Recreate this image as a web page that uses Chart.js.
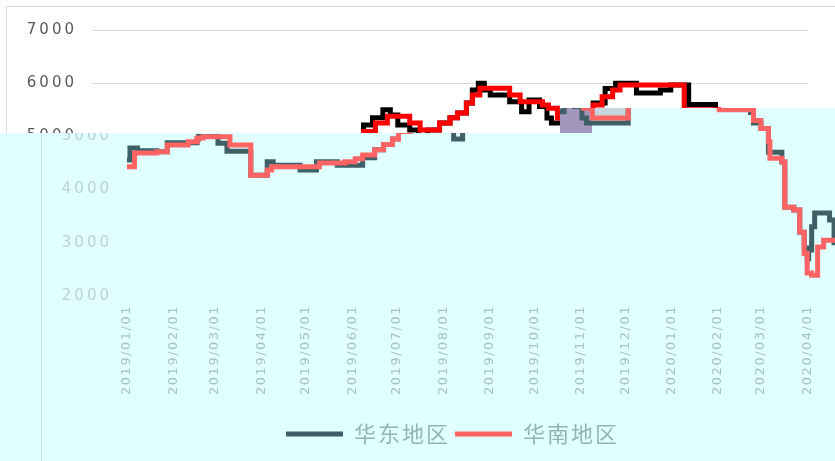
<!DOCTYPE html>
<html><head><meta charset="utf-8">
<script src="https://cdn.jsdelivr.net/npm/chart.js@4.4.1/dist/chart.umd.min.js"></script>
<style>
html,body{margin:0;padding:0;width:835px;height:461px;overflow:hidden;background:#fff;}
.layer{position:absolute;left:0;top:0;width:835px;height:461px;overflow:hidden;}
#upper{background:#fff;}
#lower{background:#e0ffff;clip-path:polygon(0px 133px,560px 133px,560px 108px,835px 108px,835px 461px,0px 461px);}
.frame{position:absolute;left:6px;top:6px;width:900px;height:470px;border:1px solid #d9d9d9;box-sizing:border-box;}
.cv{position:absolute;top:0;width:835px;height:461px;}
</style></head><body>
<div id="upper" class="layer"><div class="frame"></div><div class="cv" style="left:0"><canvas id="c1" width="835" height="461"></canvas></div></div>
<div id="lower" class="layer"><div class="frame" style="left:41px;border-color:#c6e2e2"></div>
<div style="position:absolute;left:593px;top:108px;width:33px;height:12px;background:#c5d6dd"></div>
<div style="position:absolute;left:560px;top:108px;width:32px;height:25px;background:#a497bd"></div>
<div class="cv" style="left:35px"><canvas id="c2" width="835" height="461"></canvas></div></div>
<script>
const seriesNames = ["华东地区", "华南地区"];
const tickLabels = ["2019/01/01","2019/02/01","2019/03/01","2019/04/01","2019/05/01","2019/06/01","2019/07/01","2019/08/01","2019/09/01","2019/10/01","2019/11/01","2019/12/01","2020/01/01","2020/02/01","2020/03/01","2020/04/01"];
const yTicks = [2000, 3000, 4000, 5000, 6000, 7000];
const eastDates = ["2019-01-01","2019-01-03","2019-01-08","2019-01-21","2019-01-28","2019-02-17","2019-02-18","2019-03-03","2019-03-09","2019-03-25","2019-04-05","2019-04-09","2019-04-27","2019-05-08","2019-05-22","2019-06-08","2019-06-16","2019-06-22","2019-06-28","2019-07-02","2019-07-08","2019-07-15","2019-07-20","2019-07-25","2019-08-02","2019-08-08","2019-08-14","2019-08-22","2019-08-29","2019-09-03","2019-09-09","2019-09-13","2019-09-17","2019-09-21","2019-09-25","2019-10-08","2019-10-16","2019-10-21","2019-10-28","2019-11-02","2019-11-05","2019-12-03","2019-12-11","2019-12-18","2020-01-01","2020-01-17","2020-01-24","2020-02-05","2020-02-23","2020-02-25","2020-03-01","2020-03-06","2020-03-15","2020-03-17","2020-03-23","2020-03-27","2020-03-30","2020-04-01","2020-04-02","2020-04-04","2020-04-06","2020-04-16","2020-04-19","2020-04-25"];
const eastValues = [4556,4780,4730,4710,4880,4950,5000,4870,4720,4270,4525,4460,4370,4525,4460,4600,4750,4850,4950,5215,5350,5500,5400,5215,5120,4950,5120,5250,5350,5440,5630,5870,6000,5870,5780,5650,5465,5685,5560,5345,5250,5630,5900,6000,5815,5870,5965,5600,5450,5250,5150,4700,4520,3670,3615,3200,2900,2700,2865,3300,3560,3430,3000,3000];
const southDates = ["2019-01-01","2019-01-06","2019-01-21","2019-01-28","2019-02-11","2019-02-17","2019-02-21","2019-03-11","2019-03-25","2019-04-05","2019-04-08","2019-05-10","2019-05-27","2019-06-03","2019-06-08","2019-06-16","2019-06-22","2019-06-28","2019-07-02","2019-07-10","2019-07-18","2019-08-02","2019-08-09","2019-08-22","2019-08-29","2019-09-03","2019-09-09","2019-09-13","2019-09-18","2019-10-08","2019-10-15","2019-10-30","2019-11-03","2019-11-09","2019-12-03","2019-12-09","2019-12-16","2019-12-21","2020-02-02","2020-02-25","2020-03-01","2020-03-06","2020-03-07","2020-03-15","2020-03-17","2020-03-23","2020-03-27","2020-03-30","2020-04-01","2020-04-04","2020-04-08","2020-04-12","2020-04-25"];
const southValues = [4430,4690,4710,4840,4900,4970,4995,4840,4270,4370,4430,4500,4525,4580,4650,4750,4850,4950,5090,5250,5380,5250,5120,5250,5350,5440,5630,5780,5905,5780,5650,5590,5530,5345,5590,5745,5870,5965,5500,5300,5150,4900,4590,4520,3670,3615,3200,2800,2430,2390,2920,3050,3050];

const T0 = Date.UTC(2019, 0, 1);
function dayOf(s) { const p = s.split(/[-\/]/).map(Number); return (Date.UTC(p[0], p[1] - 1, p[2]) - T0) / 86400000; }
function pts(d, v) { return d.map((s, i) => ({ x: dayOf(s), y: v[i] })); }
const xMax = dayOf("2020-04-25");

function wrap(s, ls) {
  if (s._lsw) return; s._lsw = true;
  const o = s.drawLabels;
  s.drawLabels = function (a) { const c = this.ctx, p = c.letterSpacing; c.letterSpacing = ls; o.call(this, a); c.letterSpacing = p; };
}
const lsPlugin = { id: 'ls', beforeLayout(c) { c.ctx.letterSpacing = '2px'; }, beforeDraw(c) { c.ctx.letterSpacing = '2px'; } };

function make(id, th) {
  return new Chart(document.getElementById(id), {
    type: 'line',
    data: { datasets: [
      { label: seriesNames[0], data: pts(eastDates, eastValues), borderColor: th.east, backgroundColor: th.east, borderWidth: 5, pointRadius: 0, stepped: true, order: 1, fill: false },
      { label: seriesNames[1], data: pts(southDates, southValues), borderColor: th.south, backgroundColor: th.south, borderWidth: 5, pointRadius: 0, stepped: true, order: 0, fill: false }
    ] },
    options: {
      responsive: false, animation: false, events: [],
      layout: { padding: { top: 30, right: 27, bottom: 6, left: 27 } },
      scales: {
        x: { type: 'linear', min: 0, max: xMax,
          afterBuildTicks: (s) => { s.ticks = tickLabels.map(t => ({ value: dayOf(t) })); },
          afterFit: (s) => { s.height = 122; wrap(s, '1.5px'); },
          grid: { display: false }, border: { display: false },
          ticks: { autoSkip: false, minRotation: 90, maxRotation: 90, padding: 1, color: th.xText,
            font: { family: 'DejaVu Sans', size: 13 }, callback: (v, i) => tickLabels[i] } },
        y: { min: 2000, max: 7000,
          afterBuildTicks: (s) => { s.ticks = yTicks.map(v => ({ value: v })); },
          afterFit: (s) => { s.width = 65; wrap(s, '3px'); },
          grid: { color: th.grid, drawTicks: false, lineWidth: 1 }, border: { display: false },
          ticks: { padding: 15, color: th.yText, font: { family: 'DejaVu Sans', size: 15 }, callback: (v) => String(v) } }
      },
      plugins: {
        tooltip: { enabled: false },
        legend: { position: 'bottom',
          labels: { boxWidth: 57, boxHeight: 5, padding: 5, color: th.legendText,
            font: { family: 'Noto Sans CJK SC', size: 22 },
            generateLabels: (chart) => chart.data.datasets.map((d, i) => ({ text: d.label, fillStyle: d.borderColor, strokeStyle: d.borderColor, lineWidth: 0, hidden: false, datasetIndex: i, fontColor: th.legendText })) } }
      }
    },
    plugins: [lsPlugin]
  });
}
make('c1', { east: '#000000', south: '#ff0000', grid: '#d9d9d9', yText: '#595959', xText: '#595959', legendText: '#595959' });
make('c2', { east: '#3e6066', south: '#ff6464', grid: 'rgba(0,0,0,0)', yText: '#bfd1d1', xText: '#a9c1c3', legendText: '#93b3b6' });
</script>
</body></html>
